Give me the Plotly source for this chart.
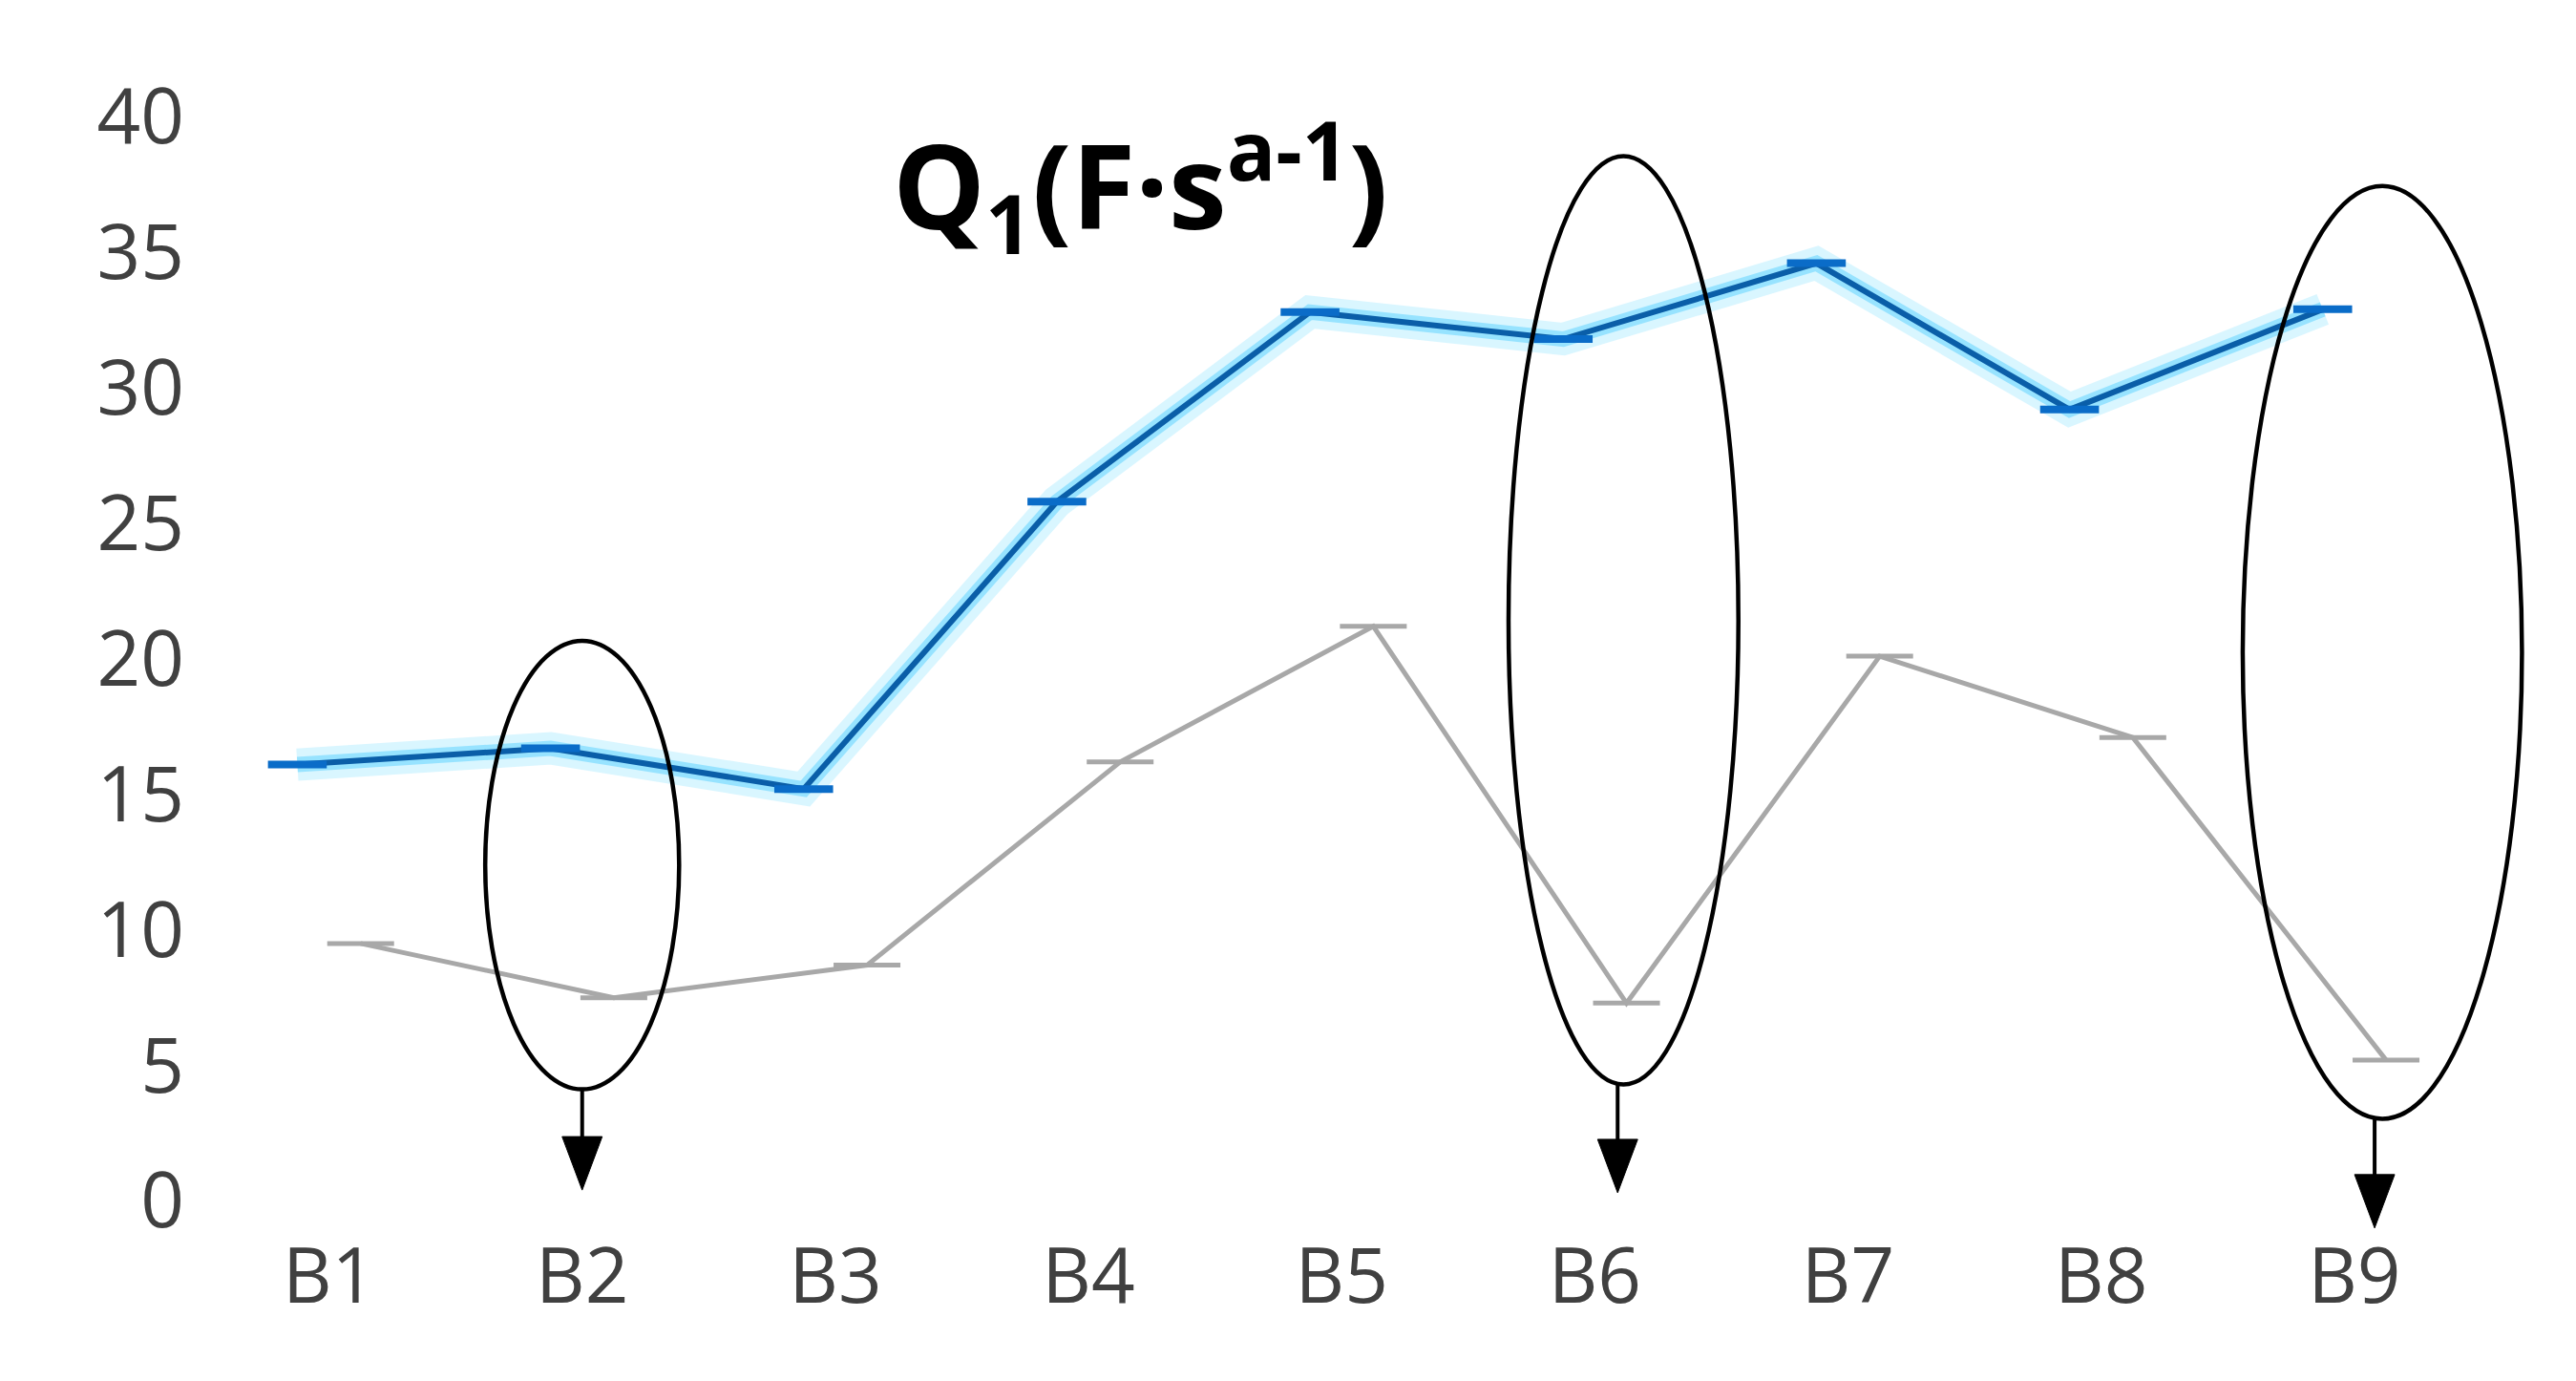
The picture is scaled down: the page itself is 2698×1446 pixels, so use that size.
import plotly.graph_objects as go

categories = ["B1", "B2", "B3", "B4", "B5", "B6", "B7", "B8", "B9"]
series_blue = [16.1, 16.7, 15.2, 25.8, 32.8, 31.8, 34.6, 29.2, 32.9]
series_gray = [9.5, 7.5, 8.7, 16.2, 21.2, 7.3, 20.1, 17.1, 5.2]
y_ticks = [0, 5, 10, 15, 20, 25, 30, 35, 40]

Y_MIN, Y_MAX = -0.9, 41


def ypaper(v):
    return (v - Y_MIN) / (Y_MAX - Y_MIN)


fig = go.Figure()

# glow around blue line
fig.add_trace(go.Scatter(x=categories, y=series_blue, mode="lines",
                         line=dict(color="rgba(180,238,255,0.5)", width=34),
                         offsetgroup="a", alignmentgroup="g", hoverinfo="skip", showlegend=False))
fig.add_trace(go.Scatter(x=categories, y=series_blue, mode="lines",
                         line=dict(color="rgba(70,205,255,0.45)", width=16),
                         offsetgroup="a", alignmentgroup="g", hoverinfo="skip", showlegend=False))
fig.add_trace(go.Scatter(x=categories, y=series_blue, mode="lines+markers",
                         line=dict(color="#0a5ea8", width=6),
                         marker=dict(symbol="line-ew", size=44, line=dict(color="#0a6cc8", width=8)),
                         offsetgroup="a", alignmentgroup="g", showlegend=False))
fig.add_trace(go.Scatter(x=categories, y=series_gray, mode="lines+markers",
                         line=dict(color="#a8a8a8", width=5),
                         marker=dict(symbol="line-ew", size=50, line=dict(color="#a8a8a8", width=5)),
                         offsetgroup="b", alignmentgroup="g", showlegend=False))

shapes = []
# ellipses
for (x0, x1, y0, y1) in [(0.617, 1.383, 4.12, 20.67), (4.659, 5.567, 4.30, 38.55), (7.559, 8.662, 3.03, 37.45)]:
    shapes.append(dict(type="circle", xref="x", yref="y", x0=x0, x1=x1, y0=y0, y1=y1,
                       line=dict(color="black", width=4.5), fillcolor="rgba(0,0,0,0)", layer="above"))
# arrows: shaft + head (paper y so they are not clipped below the axis)
for (xa, ytop, ytip) in [(1.0, 4.12, 0.4), (5.09, 4.30, 0.3), (8.08, 3.03, -1.0)]:
    shapes.append(dict(type="line", xref="x", yref="paper", x0=xa, x1=xa,
                       y0=ypaper(ytop), y1=ypaper(ytip + 1.2),
                       line=dict(color="black", width=4), layer="above"))
    shapes.append(dict(type="path", xref="x", yref="paper", xsizemode="pixel", ysizemode="pixel",
                       xanchor=xa, yanchor=ypaper(ytip), path="M -21,56 L 21,56 L 0,0 Z",
                       fillcolor="black", line=dict(color="black", width=1), layer="above"))

fig.update_layout(
    width=2698, height=1446,
    margin=dict(l=204, r=28, t=86, b=171),
    paper_bgcolor="white", plot_bgcolor="white",
    scattermode="group", scattergap=0.5,
    showlegend=False,
    shapes=shapes,
    font=dict(family="Open Sans", color="#404040"),
    xaxis=dict(type="category", range=[-0.5, 8.8], showgrid=False, zeroline=False, showline=False,
               tickfont=dict(size=80, color="#404040"), ticks=""),
    yaxis=dict(range=[Y_MIN, Y_MAX], tickvals=y_ticks, ticktext=[str(v) for v in y_ticks],
               showgrid=False, zeroline=False, showline=False, ticks="", ticklabelstandoff=18,
               tickfont=dict(size=80, color="#404040")),
    annotations=[dict(xref="paper", yref="paper", x=0.3985, y=0.9155,
                      text="<b>Q<sub>1</sub>(F·s<sup>a-1</sup>)</b>", showarrow=False,
                      font=dict(size=122, color="black", family="Open Sans"),
                      xanchor="center", yanchor="middle")],
)

fig.write_html("out.html")
